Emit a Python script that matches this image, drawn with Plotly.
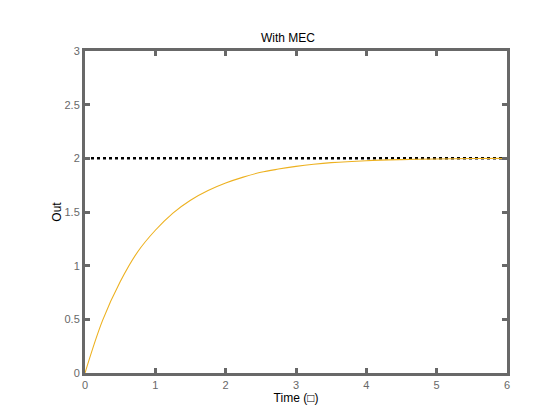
import plotly.graph_objects as go

# values
time_s = [0, 0.25, 0.5, 0.75, 1, 1.25, 1.5, 1.75, 2, 2.25, 2.5, 2.75, 3,
          3.25, 3.5, 4, 4.5, 5, 5.5, 6]
out_vals = [0, 0.49, 0.85, 1.13, 1.33, 1.49, 1.61, 1.70, 1.77, 1.825, 1.87,
            1.90, 1.925, 1.945, 1.96, 1.978, 1.988, 1.994, 1.998, 2.0]
ref_t = [0, 6]
ref_vals = [2, 2]

x_ticks = [0, 1, 2, 3, 4, 5, 6]
y_ticks = [0, 0.5, 1, 1.5, 2, 2.5, 3]

axis_col = "#686868"
font = "Liberation Sans, Arial, sans-serif"

fig = go.Figure()

# reference level (dotted black)
fig.add_trace(go.Scatter(
    x=ref_t, y=ref_vals, mode="lines",
    line=dict(color="black", width=2.5, dash="dot"),
    showlegend=False, hoverinfo="skip"
))

# system response (orange)
fig.add_trace(go.Scatter(
    x=time_s, y=out_vals, mode="lines",
    line=dict(color="#EDB120", width=1.1, shape="spline", smoothing=1.0),
    showlegend=False
))

ax = dict(
    showline=True, linecolor=axis_col, linewidth=3, mirror="ticks",
    ticks="inside", ticklen=5, tickwidth=2.5, tickcolor=axis_col,
    showgrid=False, zeroline=False, automargin=False,
    tickfont=dict(family=font, size=11, color=axis_col),
)

fig.update_xaxes(ax, range=[0, 6], tickvals=x_ticks,
                 title=dict(text="Time (\u25a1)", font=dict(family=font, size=12, color="black"),
                            standoff=4))
fig.update_yaxes(ax, range=[0, 3], tickvals=y_ticks,
                 ticktext=[str(v) if v % 1 else str(int(v)) for v in y_ticks],
                 title=dict(text="Out", font=dict(family=font, size=12, color="black"),
                            standoff=1))

# page shows an 8px body offset, so margins are shifted to compensate
fig.update_layout(
    width=560, height=420,
    margin=dict(l=77, r=61, t=43, b=55),
    paper_bgcolor="white", plot_bgcolor="white",
    title=dict(text="With MEC", x=0.5, xanchor="center", y=0.93, yanchor="middle",
               font=dict(family=font, size=12, color="black")),
)

fig.write_html("out.html")
